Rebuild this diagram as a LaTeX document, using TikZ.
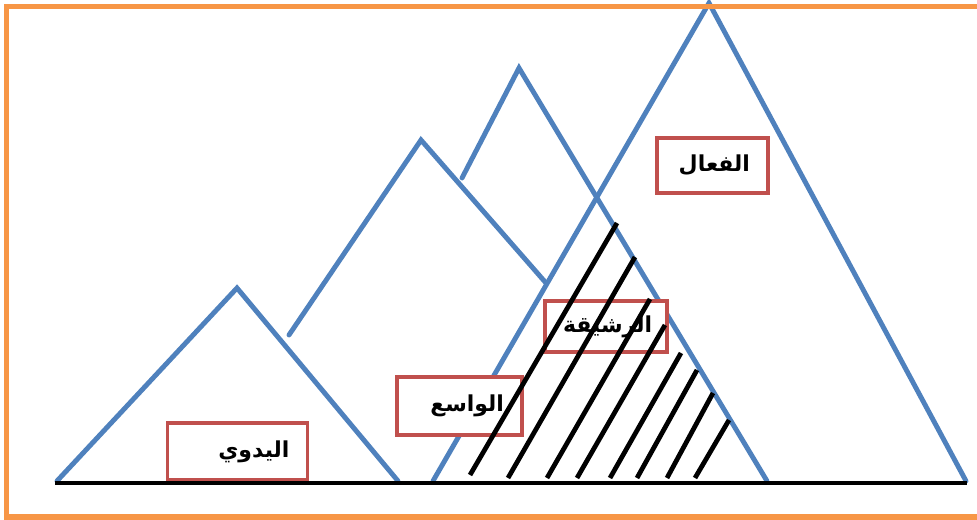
\documentclass[tikz,border=0pt]{standalone}
\usepackage{fontspec}
\newfontfamily\arabicfont[Script=Arabic]{DejaVu Sans}
\TeXXeTstate=1
\definecolor{peakblue}{HTML}{4F81BD}
\definecolor{boxred}{HTML}{C0504D}
\definecolor{frameorange}{HTML}{F79646}
\tikzset{
  slope/.style={peakblue, line width=2.8pt, line cap=round},
  hatchline/.style={black, line width=2.7pt},
  labelbox/.style={draw=boxred, line width=2.1pt, fill=white, align=right,
    inner xsep=0.36cm, inner ysep=0pt,
    font=\arabicfont\bfseries\fontsize{12.5}{15}\selectfont},
}
\begin{document}
\begin{tikzpicture}[x=0.02cm, y=-0.02cm]
  \useasboundingbox (0, 0) rectangle (977, 520);

  % Peaks
  \coordinate (manualL) at (57, 481);
  \coordinate (manualTop) at (237, 288);
  \coordinate (manualR) at (398, 481);
  \coordinate (wideL) at (289, 335);
  \coordinate (wideTop) at (421, 140);
  \coordinate (wideR) at (546, 283);
  \coordinate (agileL) at (462, 178);
  \coordinate (agileTop) at (519, 68);
  \coordinate (agileR) at (767, 481);
  \coordinate (effL) at (433, 481);
  \coordinate (effTop) at (709, 3);
  \coordinate (effR) at (966, 481);
  \draw[slope] (manualL) -- (manualTop) -- (manualR);
  \draw[slope] (wideL) -- (wideTop) -- (wideR);
  \draw[slope] (agileL) -- (agileTop) -- (agileR);
  \draw[slope] (effL) -- (effTop) -- (effR);

  % Labels
  \node[labelbox, text width=2.08cm, minimum height=1.14cm] (manual) at (237.5, 451.5) {\beginR اليدوي\endR};
  \node[labelbox, text width=1.78cm, minimum height=1.16cm] (wide) at (459.5, 406) {\beginR الواسع\endR};
  \node[labelbox, text width=1.72cm, minimum height=1.02cm] (agile) at (606, 326.5) {\beginR الرشيقة\endR};
  \node[labelbox, text width=1.50cm, minimum height=1.10cm] (effective) at (712.5, 165.5) {\beginR الفعال\endR};

  % Hatching of the overlap
  \foreach \xa/\ya/\xb/\yb in {470/475/617/223, 508/478/635/257, 547/478/650/299,
      577/478/665/325, 610/478/681/353, 637/478/697/370, 667/478/713/393, 695/478/729/420}
    \draw[hatchline] (\xa, \ya) -- (\xb, \yb);

  % Ground line
  \coordinate (groundW) at (55, 483);
  \coordinate (groundE) at (967, 483);
  \draw[black, line width=2.6pt] (groundW) -- (groundE);

  % Frame
  \draw[frameorange, line width=2.9pt] (985, 6.5) -- (6.5, 6.5) -- (6.5, 517) -- (985, 517);
\end{tikzpicture}
\end{document}
